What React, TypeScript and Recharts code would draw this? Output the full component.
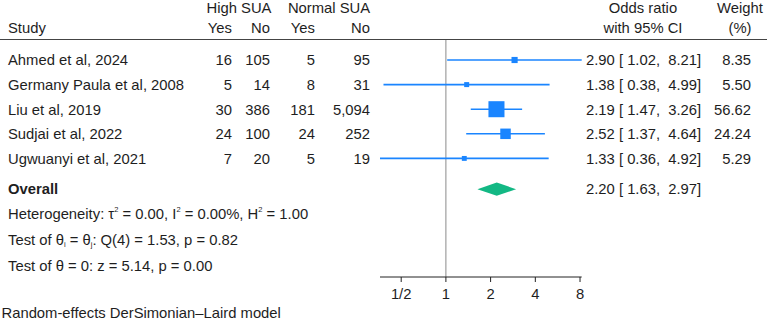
import React from "react"
import {
  ComposedChart,
  Scatter,
  ErrorBar,
  Area,
  XAxis,
  YAxis,
  ReferenceLine,
} from "recharts"

// study rows
const studies = [
  "Ahmed et al, 2024",
  "Germany Paula et al, 2008",
  "Liu et al, 2019",
  "Sudjai et al, 2022",
  "Ugwuanyi et al, 2021",
]
const highYes = [16, 5, 30, 24, 7]
const highNo = [105, 14, 386, 100, 20]
const normalYes = [5, 8, 181, 24, 5]
const normalNo = [95, 31, 5094, 252, 19]
const oddsRatio = [2.9, 1.38, 2.19, 2.52, 1.33]
const ciLow = [1.02, 0.38, 1.47, 1.37, 0.36]
const ciHigh = [8.21, 4.99, 3.26, 4.64, 4.92]
const weights = [8.35, 5.5, 56.62, 24.24, 5.29]

// pooled estimate
const overallOR = 2.2
const overallLow = 1.63
const overallHigh = 2.97

// heterogeneity / tests
const tau2 = "0.00"
const i2 = "0.00%"
const h2 = "1.00"
const qDf = 4
const qStat = "1.53"
const qP = "0.82"
const zStat = "5.14"
const zP = "0.00"

const xTicks = [0.5, 1, 2, 4, 8]
const xTickLabels = ["1/2", "1", "2", "4", "8"]

// layout
const W = 767
const H = 329
const FONT = "'Liberation Sans', Arial, Helvetica, sans-serif"
const FS = 14.8
const TEXT = "#1e1e1e"
const BLUE = "#1a85ff"
const GREEN = "#13b884"
const OVERALL_ROW = 5.25
const STAT_ROWS = [6.25, 7.3, 8.35]
const DIAMOND_HALF = 0.27

const log2 = (v: number) => Math.log(v) / Math.LN2
const fmt = (v: number) => v.toFixed(2)
const fmtN = (v: number) => v.toLocaleString("en-US")
const orText = (o: number, l: number, h: number) =>
  `${fmt(o)} [ ${fmt(l)},  ${fmt(h)}]`

const studyData = studies.map((name, i) => ({
  x: log2(oddsRatio[i]),
  row: i,
  err: [log2(oddsRatio[i]) - log2(ciLow[i]), log2(ciHigh[i]) - log2(oddsRatio[i])],
  w: weights[i],
}))

const diamondData = [
  { x: log2(overallLow), band: [OVERALL_ROW, OVERALL_ROW] },
  { x: log2(overallOR), band: [OVERALL_ROW - DIAMOND_HALF, OVERALL_ROW + DIAMOND_HALF] },
  { x: log2(overallHigh), band: [OVERALL_ROW, OVERALL_ROW] },
]

// one invisible point per table row; its shape draws the row's text
const labelData = [...studies.map((_, i) => i), OVERALL_ROW, ...STAT_ROWS].map((r) => ({
  x: 0,
  row: r,
}))

const StudySquare = (props: any) => {
  const { cx, cy, payload } = props
  const s = 2.13 * Math.sqrt(payload.w)
  return <rect x={cx - s / 2} y={cy - s / 2} width={s} height={s} fill={BLUE} />
}

const Sup = ({ t }: { t: string }) => (
  <tspan dy={-7} fontSize={7.5}>{t}</tspan>
)
const Sub = ({ t }: { t: string }) => (
  <tspan dy={2.5} fontSize={7.5}>{t}</tspan>
)

const RowLabel = (props: any) => {
  const { cy, payload } = props
  const v = payload.row
  const by = cy + 5.3
  const common = { fontFamily: FONT, fontSize: FS, fill: TEXT }
  const i = studies.findIndex((_, k) => k === v)
  if (i >= 0) {
    return (
      <g>
        <text x={8} y={by} {...common}>{studies[i]}</text>
        <text x={232} y={by} textAnchor="end" {...common}>{fmtN(highYes[i])}</text>
        <text x={270} y={by} textAnchor="end" {...common}>{fmtN(highNo[i])}</text>
        <text x={315} y={by} textAnchor="end" {...common}>{fmtN(normalYes[i])}</text>
        <text x={370} y={by} textAnchor="end" {...common}>{fmtN(normalNo[i])}</text>
        <text x={586} y={by} style={{ whiteSpace: "pre" }} {...common}>
          {orText(oddsRatio[i], ciLow[i], ciHigh[i])}
        </text>
        <text x={751} y={by} textAnchor="end" {...common}>{fmt(weights[i])}</text>
      </g>
    )
  }
  if (v === OVERALL_ROW) {
    return (
      <g>
        <text x={8} y={by} fontWeight="bold" {...common}>Overall</text>
        <text x={586} y={by} style={{ whiteSpace: "pre" }} {...common}>
          {orText(overallOR, overallLow, overallHigh)}
        </text>
      </g>
    )
  }
  if (v === STAT_ROWS[0]) {
    return (
      <text x={8} y={by} style={{ whiteSpace: "pre" }} {...common}>
        Heterogeneity: τ<Sup t="2" />
        <tspan dy={7}>{` = ${tau2}, I`}</tspan>
        <Sup t="2" />
        <tspan dy={7}>{` = ${i2}, H`}</tspan>
        <Sup t="2" />
        <tspan dy={7}>{` = ${h2}`}</tspan>
      </text>
    )
  }
  if (v === STAT_ROWS[1]) {
    return (
      <text x={8} y={by} style={{ whiteSpace: "pre" }} {...common}>
        Test of θ<Sub t="i" />
        <tspan dy={-2.5}>{" = θ"}</tspan>
        <Sub t="j" />
        <tspan dy={-2.5}>{`: Q(${qDf}) = ${qStat}, p = ${qP}`}</tspan>
      </text>
    )
  }
  return (
    <text x={8} y={by} style={{ whiteSpace: "pre" }} {...common}>
      {`Test of θ = 0: z = ${zStat}, p = ${zP}`}
    </text>
  )
}

export default function App() {
  const common = { fontFamily: FONT, fontSize: FS, fill: TEXT }
  return (
    <div style={{ position: "absolute", left: 0, top: 0, width: W, height: H, background: "#fff" }}>
      <ComposedChart
        width={W}
        height={H}
        margin={{ top: 40, right: 185.3, bottom: 22, left: 380 }}
      >
        <XAxis
          dataKey="x"
          type="number"
          domain={[log2(Math.min(...ciLow)), log2(Math.max(...ciHigh))]}
          ticks={xTicks.map(log2)}
          tickFormatter={(v: number) =>
            xTickLabels[xTicks.findIndex((t) => Math.abs(log2(t) - v) < 1e-6)]
          }
          height={30}
          tickSize={5}
          tickMargin={6}
          stroke="#222"
          tick={{ fill: TEXT, fontSize: FS, fontFamily: FONT }}
          interval={0}
        />
        <YAxis type="number" domain={[-0.813, 8.82]} reversed hide />
        <ReferenceLine x={0} stroke="#8a8a8a" strokeWidth={1} />
        <Area
          data={diamondData}
          dataKey="band"
          type="linear"
          stroke="none"
          fill={GREEN}
          fillOpacity={1}
          isAnimationActive={false}
        />
        <Scatter
          data={studyData}
          dataKey="row"
          shape={<StudySquare />}
          isAnimationActive={false}
        >
          <ErrorBar dataKey="err" direction="x" width={0} stroke={BLUE} strokeWidth={1.6} />
        </Scatter>
        <Scatter
          data={labelData}
          dataKey="row"
          shape={<RowLabel />}
          isAnimationActive={false}
        />
      </ComposedChart>
      <svg
        width={W}
        height={H}
        style={{ position: "absolute", left: 0, top: 0, pointerEvents: "none" }}
      >
        <text x={239} y={13.3} textAnchor="middle" {...common}>High SUA</text>
        <text x={329} y={13.3} textAnchor="middle" {...common}>Normal SUA</text>
        <text x={643} y={13.3} textAnchor="middle" {...common}>Odds ratio</text>
        <text x={740} y={13.3} textAnchor="middle" {...common}>Weight</text>
        <text x={8} y={33} {...common}>Study</text>
        <text x={232} y={33} textAnchor="end" {...common}>Yes</text>
        <text x={270} y={33} textAnchor="end" {...common}>No</text>
        <text x={315} y={33} textAnchor="end" {...common}>Yes</text>
        <text x={370} y={33} textAnchor="end" {...common}>No</text>
        <text x={643} y={33} textAnchor="middle" {...common}>with 95% CI</text>
        <text x={740} y={33} textAnchor="middle" {...common}>(%)</text>
        <line x1={0} x2={W} y1={39.5} y2={39.5} stroke="#444" strokeWidth={1} />
        <text x={1.5} y={318} {...common}>Random-effects DerSimonian–Laird model</text>
      </svg>
    </div>
  )
}
